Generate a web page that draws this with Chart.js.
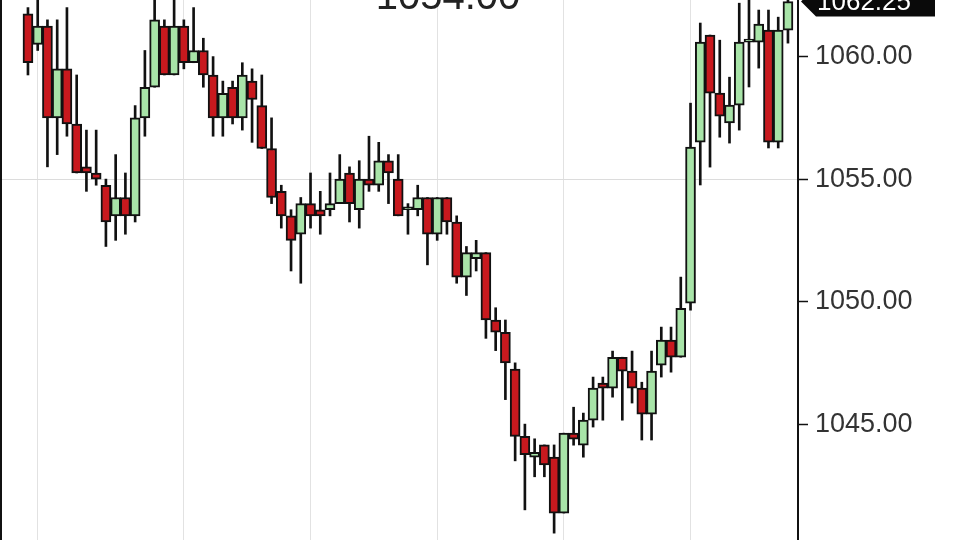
<!DOCTYPE html>
<html>
<head>
<meta charset="utf-8">
<script src="https://cdn.jsdelivr.net/npm/chart.js@4/dist/chart.umd.min.js"></script>
<style>
  html, body { margin: 0; padding: 0; background: #fff; overflow: hidden; }
  #wrap { width: 960px; height: 540px; }
</style>
</head>
<body>
<div id="wrap"><canvas id="visualChart" width="960" height="540"></canvas></div>
<script>
// OHLC, one entry per bar (left to right)
const opens = [1061.75, 1060.5, 1061.25, 1057.5, 1059.5, 1057.25, 1055.5, 1055.25, 1054.75, 1053.5,
  1054.25, 1053.5, 1057.5, 1058.75, 1061.25, 1059.25, 1061.25, 1059.75, 1060.25, 1059.25,
  1057.5, 1058.75, 1057.5, 1059, 1058, 1056.25, 1054.5, 1053.5, 1052.75, 1054,
  1053.75, 1053.75, 1054, 1055.25, 1053.75, 1055, 1054.75, 1055.75, 1055, 1053.75,
  1053.75, 1054.25, 1052.75, 1054.25, 1053.25, 1051, 1051.75, 1052, 1049.25, 1048.75,
  1047.25, 1044.5, 1043.65, 1044.15, 1043.65, 1041.37, 1044.63, 1044.14, 1045.16, 1046.67,
  1046.47, 1047.73, 1047.16, 1046.47, 1045.41, 1047.41, 1048.43, 1047.73, 1049.94, 1056.51,
  1060.88, 1058.51, 1057.29, 1058.02, 1060.59, 1060.59, 1061.08, 1056.51, 1061.08];
const highs = [1062, 1062.5, 1061.5, 1061.5, 1062, 1059.25, 1057, 1057, 1055, 1056,
  1055.25, 1058, 1060.25, 1062.5, 1061.5, 1062.5, 1061.5, 1062, 1060.75, 1060,
  1059, 1059, 1059.75, 1059.5, 1059.25, 1057.5, 1054.75, 1053.75, 1054.25, 1055.25,
  1054.5, 1055.25, 1056, 1055.5, 1055.75, 1056.75, 1056.5, 1056, 1056, 1054,
  1054.75, 1054.25, 1054.25, 1054.25, 1053.5, 1052.25, 1052.5, 1052, 1049.75, 1049.25,
  1047.5, 1045, 1044.4, 1044.15, 1044.15, 1044.63, 1045.69, 1045.45, 1046.92, 1046.92,
  1047.98, 1047.73, 1047.98, 1046.71, 1047.98, 1048.96, 1048.96, 1051, 1058.1, 1061.37,
  1060.88, 1060.67, 1059.16, 1062.18, 1062.5, 1061.9, 1061.9, 1061.61, 1062.5];
const lows = [1059.25, 1060.25, 1055.5, 1056, 1056.75, 1055.25, 1054.5, 1054.75, 1052.25, 1052.5,
  1052.75, 1053.25, 1056.75, 1058.75, 1059.25, 1059.25, 1059.5, 1059.75, 1058.75, 1056.75,
  1056.75, 1057.25, 1057, 1056.5, 1056.25, 1054, 1053, 1051.25, 1050.75, 1053,
  1052.75, 1053.5, 1054, 1053.25, 1053, 1054.5, 1054.5, 1054, 1053.5, 1052.75,
  1053.5, 1051.5, 1052.5, 1052.75, 1050.75, 1050.25, 1051.25, 1048.5, 1048, 1046,
  1043.5, 1041.5, 1042.85, 1042.85, 1040.55, 1041.37, 1044.14, 1043.65, 1044.88, 1045.16,
  1046.1, 1045.16, 1045.86, 1044.35, 1044.35, 1046.92, 1047.12, 1047.73, 1049.65, 1054.76,
  1055.49, 1056.71, 1056.47, 1057, 1058.76, 1059.53, 1056.27, 1056.27, 1060.55];
const closes = [1059.75, 1061.25, 1057.5, 1059.5, 1057.25, 1055.25, 1055.25, 1055, 1053.25, 1054.25,
  1053.5, 1057.5, 1058.75, 1061.5, 1059.25, 1061.25, 1059.75, 1060.25, 1059.25, 1057.5,
  1058.5, 1057.5, 1059.25, 1058.25, 1056.25, 1054.25, 1053.5, 1052.5, 1054, 1053.5,
  1053.5, 1054, 1055, 1054, 1055, 1054.75, 1055.75, 1055.25, 1053.5, 1053.75,
  1054.25, 1052.75, 1054.25, 1053.25, 1051, 1052, 1052, 1049.25, 1048.75, 1047.5,
  1044.5, 1043.75, 1043.85, 1043.33, 1041.37, 1044.63, 1044.39, 1045.16, 1046.47, 1046.47,
  1047.73, 1047.16, 1046.47, 1045.41, 1047.16, 1048.43, 1047.73, 1049.73, 1056.31, 1060.59,
  1058.51, 1057.57, 1058.02, 1060.59, 1060.59, 1061.33, 1056.51, 1061.08, 1062.25];

const categories = opens.map((_, i) => i);   // bar number
const gridBars = [1, 16, 29, 42, 55, 68];     // bars that carry a vertical grid line
const yTicks = [1045, 1050, 1055, 1060];
const crossPrice = 1055;
const lastPrice = closes[closes.length - 1];
const headerText = '1054.00';

const UP = '#a8e4a8';
const DOWN = '#c8191e';

const bodies = categories.map(i => ({ x: i, y: [opens[i], closes[i]] }));
const wicks = categories.map(i => ({ x: i, y: [lows[i], highs[i]] }));
const bodyColors = categories.map(i => closes[i] >= opens[i] ? UP : DOWN);

// frame line on the left, header text and the last-price tag
const extras = {
  id: 'extras',
  afterDraw(chart) {
    const { ctx, chartArea } = chart;
    const y = chart.scales.y;
    ctx.save();
    ctx.strokeStyle = '#111';
    ctx.lineWidth = 2;
    ctx.beginPath();
    ctx.moveTo(chartArea.left + 1, 0);
    ctx.lineTo(chartArea.left + 1, chart.height);
    ctx.stroke();

    ctx.fillStyle = '#222';
    ctx.font = '40px "Liberation Sans", Arial, sans-serif';
    ctx.textAlign = 'center';
    ctx.textBaseline = 'alphabetic';
    ctx.fillText(headerText, 448, 9);

    const yc = y.getPixelForValue(lastPrice);
    const x0 = chartArea.right + 3;
    ctx.fillStyle = '#0a0a0a';
    ctx.beginPath();
    ctx.moveTo(x0, yc);
    ctx.lineTo(x0 + 15, yc - 15);
    ctx.lineTo(935, yc - 15);
    ctx.lineTo(935, yc + 15);
    ctx.lineTo(x0 + 15, yc + 15);
    ctx.closePath();
    ctx.fill();
    ctx.fillStyle = '#fff';
    ctx.font = '26px "Liberation Sans", Arial, sans-serif';
    ctx.textAlign = 'left';
    ctx.textBaseline = 'middle';
    ctx.fillText(lastPrice.toFixed(2), x0 + 16, yc + 1);
    ctx.restore();
  }
};

const ctx = document.getElementById('visualChart').getContext('2d');
new Chart(ctx, {
  type: 'bar',
  data: {
    datasets: [
      {
        label: 'body',
        data: bodies,
        backgroundColor: bodyColors,
        borderColor: '#111',
        borderWidth: 2,
        borderSkipped: false,
        barThickness: 10,
        minBarLength: 3,
        grouped: false,
        order: 0
      },
      {
        label: 'wick',
        data: wicks,
        backgroundColor: '#111',
        borderWidth: 0,
        barThickness: 2,
        grouped: false,
        order: 1
      }
    ]
  },
  options: {
    responsive: false,
    animation: false,
    devicePixelRatio: 1,
    layout: { padding: 0 },
    plugins: {
      legend: { display: false },
      tooltip: { enabled: false }
    },
    scales: {
      x: {
        type: 'linear',
        offset: false,
        min: -2.87,
        max: 79.03,
        afterBuildTicks: s => { s.ticks = gridBars.map(v => ({ value: v })); },
        afterFit: s => { s.height = 0; s.paddingLeft = 0; s.paddingRight = 0; },
        ticks: { display: false },
        grid: { color: '#e2e2e2', lineWidth: 1, drawTicks: false, offset: false },
        border: { display: false }
      },
      y: {
        position: 'right',
        min: 1040.27,
        max: 1062.31,
        afterBuildTicks: s => { s.ticks = yTicks.map(v => ({ value: v })); },
        afterFit: s => { s.width = 162; s.paddingTop = 0; s.paddingBottom = 0; },
        ticks: {
          color: '#333',
          padding: 7,
          font: { family: '"Liberation Sans", Arial, sans-serif', size: 27 },
          callback: v => Number(v).toFixed(2)
        },
        grid: {
          color: c => (c.tick && c.tick.value === crossPrice) ? '#dcdcdc' : 'rgba(0,0,0,0)',
          tickColor: '#111',
          tickLength: 10,
          tickWidth: 1.5
        },
        border: { color: '#111', width: 2 }
      }
    }
  },
  plugins: [extras]
});
</script>
</body>
</html>
